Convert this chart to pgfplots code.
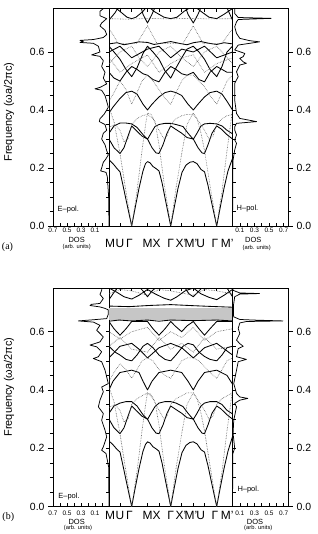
\documentclass[border=0pt]{standalone}
\usepackage{pgfplots}
\pgfplotsset{compat=1.18}
\usepackage{fontspec}
\setmainfont{Liberation Sans}
\newfontfamily\seriff{Liberation Serif}
\pgfplotsset{
  sb/.style={black, line width=0.85bp, line join=round},
  db/.style={black!65, densely dotted, line width=0.6bp},
  dos/.style={black, line width=0.75bp, line join=round},
  base/.style={scale only axis, anchor=south west, ymin=0, ymax=0.75,
    axis line style={line width=0.6bp}, tick style={black, line width=0.5bp},
    major tick length=3bp, minor tick length=3bp,
    /pgf/number format/assume math mode=true},
  ldos/.style={base, width=56bp, xmin=-0.1, xmax=0.7, x dir=reverse},
  rdos/.style={base, width=55.5bp, xmin=0, xmax=0.76},
  band/.style={base, width=123.5bp, xmin=0, xmax=123.5,
    xtick={0,11,22.7,38.5,50,61.7,72.7,84.3,95.5,107.7,123.5}, xticklabels={},
    xtick pos=both, tick align=inside, ytick=\empty},
  dosx/.style={tick align=inside, xtick={0.1,0.3,0.5,0.7}, xtick pos=bottom,
    xticklabel style={font=\fontsize{6.5}{7}\selectfont, inner sep=0pt,
      /pgf/number format/fixed, /pgf/number format/precision=1, /pgf/number format/fixed zerofill},
    ytick={0,0.2,0.4,0.6}, minor y tick num=3, yticklabels={}},
  outer/.style={xtick=\empty, tick align=outside, ytick={0,0.2,0.4,0.6},
    minor y tick num=3, major tick length=5bp, minor tick length=3bp,
    yticklabel style={font=\fontsize{10.5}{12}\selectfont,
      /pgf/number format/fixed, /pgf/number format/precision=1, /pgf/number format/fixed zerofill}},
}
\begin{document}
\begin{tikzpicture}
\path[use as bounding box] (0bp,0bp) rectangle (318bp,534bp);

% ================= PANEL (a) =================
\begin{axis}[ldos, dosx, at={(53bp,308bp)}, height=217.5bp, ytick pos=right,
  minor xtick={0,0.2,0.4,0.6}, xticklabel style={yshift=-1.5bp}]
\addplot[dos] coordinates {(-0.1,0)(-0.095,0.10)(-0.076,0.17)(-0.057,0.185)(0.019,0.19)(0.005,0.20)(-0.019,0.22)(-0.052,0.23)(-0.09,0.245)(-0.067,0.26)(-0.043,0.28)(0.005,0.30)(-0.019,0.32)(-0.067,0.33)(-0.043,0.35)(0.038,0.36)(0.029,0.37)(-0.029,0.385)(-0.067,0.40)(-0.09,0.41)(-0.067,0.43)(-0.043,0.45)(0.005,0.468)(0.1,0.473)(0.029,0.478)(-0.067,0.49)(-0.019,0.51)(-0.043,0.53)(0.005,0.55)(-0.019,0.57)(0.029,0.585)(0.148,0.59)(0.029,0.60)(0.052,0.62)(0.124,0.63)(0.314,0.633)(0.267,0.636)(0.314,0.64)(0.124,0.643)(-0.019,0.65)(-0.067,0.66)(-0.043,0.675)(0.029,0.69)(0.005,0.70)(-0.067,0.715)(0.029,0.725)(0.029,0.74)(-0.019,0.75)};
\end{axis}
\begin{axis}[ldos, outer, at={(53bp,308bp)}, height=217.5bp, ytick pos=left]
\end{axis}

\begin{axis}[band, at={(109bp,308bp)}, height=217.5bp]
% E-pol (solid)
\addplot[sb] coordinates {(0,.228)(4,.215)(8,.198)(11,.187)(14,.14)(18,.075)(22.7,0)(26,.06)(30,.13)(34,.19)(36.5,.215)(38.5,.222)(41,.218)(44,.205)(47,.198)(50,.19)(53,.15)(57,.08)(61.7,0)(65,.06)(69,.13)(73,.185)(77,.21)(81,.22)(84.3,.222)(88,.215)(92,.195)(95.5,.187)(99,.14)(103,.075)(107.7,0)(111,.06)(115,.13)(119,.19)(123.5,.233)};
\addplot[sb] coordinates {(0,.30)(5,.27)(11,.25)(15,.27)(19,.31)(22.7,.345)(27,.33)(33,.31)(38.5,.30)(43,.27)(47,.252)(50,.25)(54,.28)(58,.32)(61.7,.345)(66,.335)(72.7,.32)(78,.305)(84.3,.30)(89,.27)(93,.252)(95.5,.25)(99,.28)(103,.32)(107.7,.345)(112,.335)(118,.315)(123.5,.30)};
\addplot[sb] coordinates {(0,.32)(5,.345)(11,.355)(17,.355)(22.7,.352)(28,.34)(34,.315)(38.5,.299)(42,.32)(46,.343)(50,.35)(56,.354)(61.7,.354)(67,.35)(74,.343)(79,.32)(84.3,.299)(88,.32)(92,.345)(95.5,.352)(101,.354)(107.7,.352)(113,.345)(118,.33)(123.5,.318)};
\addplot[sb] coordinates {(0,.39)(4,.41)(11,.44)(17,.46)(22.7,.465)(28,.455)(34,.42)(38.5,.40)(43,.42)(50,.445)(56,.46)(61.7,.465)(67,.46)(72.7,.45)(79,.42)(84.3,.40)(89,.42)(95.5,.445)(101,.46)(107.7,.465)(113,.455)(118,.43)(123.5,.40)};
\addplot[sb] coordinates {(0,.53)(5,.51)(11,.50)(17,.53)(22.7,.55)(28,.54)(34,.525)(38.5,.52)(44,.505)(50,.497)(56,.53)(61.7,.55)(67,.54)(72.7,.525)(78,.52)(84.3,.53)(90,.505)(95.5,.497)(101,.53)(107.7,.55)(113,.54)(118,.53)(123.5,.53)};
\addplot[sb] coordinates {(0,.62)(5,.60)(11,.575)(17,.54)(22.7,.515)(28,.545)(34,.595)(38.5,.62)(44,.60)(50,.575)(56,.535)(61.7,.51)(67,.545)(72.7,.58)(78,.61)(84.3,.62)(90,.60)(95.5,.575)(101,.54)(107.7,.515)(113,.55)(118,.60)(123.5,.62)};
\addplot[sb] coordinates {(0,.60)(11,.62)(22.7,.58)(38.5,.61)(50,.62)(61.7,.58)(72.7,.61)(84.3,.60)(95.5,.62)(107.7,.58)(123.5,.60)};
\addplot[sb] coordinates {(0,.628)(8,.632)(15,.625)(22.7,.63)(30,.635)(38.5,.633)(45,.626)(52,.63)(61.7,.636)(70,.63)(78,.625)(84.3,.632)(92,.636)(100,.63)(107.7,.626)(115,.632)(123.5,.628)};
\addplot[sb] coordinates {(0,.71)(6,.735)(12,.77)(22.7,.80)(30,.78)(34,.73)(38.5,.70)(43,.73)(48,.77)(61.7,.80)(74,.78)(79,.73)(84.3,.70)(89,.73)(94,.77)(107.7,.80)(117,.76)(123.5,.71)};
\addplot[sb] coordinates {(0,.77)(11,.74)(18,.72)(22.7,.715)(27,.72)(34,.74)(38.5,.76)(45,.74)(55,.72)(61.7,.715)(68,.72)(75,.74)(84.3,.76)(92,.74)(100,.72)(107.7,.715)(115,.73)(123.5,.75)};
% H-pol (dotted)
\addplot[db] coordinates {(0,.41)(5,.36)(11,.25)(16,.14)(22.7,0)(28,.12)(33,.26)(37,.36)(38.5,.39)(42,.385)(46,.36)(50,.28)(55,.15)(61.7,0)(67,.13)(72.7,.25)(78,.35)(84.3,.39)(88,.37)(92,.32)(95.5,.26)(101,.14)(107.7,0)(113,.12)(118,.26)(123.5,.40)};
\addplot[db] coordinates {(0,.34)(6,.35)(11,.33)(15,.29)(19,.30)(22.7,.35)(28,.37)(33,.38)(38.5,.385)(44,.37)(50,.33)(55,.30)(58,.31)(61.7,.35)(67,.37)(72.7,.38)(78,.385)(84.3,.385)(90,.36)(95.5,.33)(100,.30)(104,.31)(107.7,.35)(113,.37)(118,.38)(123.5,.385)};
\addplot[db] coordinates {(0,.43)(5,.46)(11,.50)(17,.47)(22.7,.42)(28,.46)(33,.50)(38.5,.52)(44,.50)(50,.47)(56,.44)(61.7,.42)(67,.46)(72.7,.50)(78,.52)(84.3,.52)(90,.50)(95.5,.48)(101,.45)(107.7,.42)(113,.46)(118,.50)(123.5,.52)};
\addplot[db] coordinates {(0,.56)(11,.60)(22.7,.62)(30,.58)(38.5,.55)(50,.60)(61.7,.62)(72.7,.58)(84.3,.55)(95.5,.60)(107.7,.62)(123.5,.56)};
\addplot[db] coordinates {(0,.58)(11,.53)(22.7,.56)(38.5,.59)(50,.53)(61.7,.56)(72.7,.58)(84.3,.59)(95.5,.53)(107.7,.56)(123.5,.58)};
\addplot[db] coordinates {(0,.68)(4,.66)(9,.63)(28,.63)(38.5,.69)(48,.63)(74,.63)(84.3,.69)(94,.63)(113,.63)(123.5,.68)};
\addplot[db] coordinates {(0,.715)(20,.713)(40,.716)(60,.714)(80,.716)(100,.714)(123.5,.715)};
\end{axis}

\begin{axis}[rdos, dosx, at={(232.5bp,308bp)}, height=217.5bp, ytick pos=left,
  minor xtick={0.2,0.4,0.6}, xticklabel style={yshift=-1.5bp}]
\addplot[dos] coordinates {(0,0)(0.003,0.10)(0.005,0.2)(0.008,0.228)(0.03,0.262)(0.055,0.285)(0.03,0.297)(0.055,0.314)(0.03,0.331)(0.03,0.342)(0.055,0.354)(0.33,0.36)(0.10,0.371)(0.055,0.388)(0.03,0.434)(0.03,0.492)(0.078,0.515)(0.055,0.532)(0.10,0.555)(0.19,0.561)(0.146,0.566)(0.10,0.578)(0.146,0.584)(0.169,0.595)(0.10,0.601)(0.03,0.607)(0.078,0.624)(0.237,0.63)(0.37,0.635)(0.237,0.639)(0.10,0.647)(0.055,0.664)(0.03,0.687)(0.055,0.704)(0.078,0.712)(0.53,0.716)(0.078,0.719)(0.03,0.733)(0.03,0.75)};
\end{axis}
\begin{axis}[rdos, outer, at={(232.5bp,308bp)}, height=217.5bp, ytick pos=right]
\end{axis}

% ================= PANEL (b) =================
\begin{axis}[ldos, dosx, at={(53bp,27.5bp)}, height=218.5bp, ytick pos=right,
  minor xtick={0,0.2,0.4,0.6}, xticklabel style={yshift=-4bp}]
\addplot[dos] coordinates {(-0.1,0)(-0.095,0.136)(-0.057,0.182)(0.005,0.193)(-0.019,0.205)(-0.067,0.239)(-0.043,0.262)(0.005,0.296)(-0.019,0.319)(0.052,0.342)(0.029,0.365)(-0.019,0.394)(0.005,0.41)(-0.09,0.422)(-0.043,0.468)(0.005,0.497)(0.124,0.508)(0.052,0.514)(0.005,0.531)(0.076,0.548)(0.171,0.554)(0.029,0.565)(-0.019,0.582)(0.029,0.594)(0.076,0.605)(0.029,0.622)(0.124,0.633)(0.338,0.637)(0.124,0.641)(-0.067,0.645)(-0.09,0.66)(-0.09,0.675)(-0.043,0.68)(0.029,0.685)(0.171,0.69)(0.148,0.694)(0.029,0.697)(-0.019,0.714)(0.029,0.728)(0.005,0.742)(0.005,0.75)};
\end{axis}
\begin{axis}[ldos, outer, at={(53bp,27.5bp)}, height=218.5bp, ytick pos=left]
\end{axis}

\begin{axis}[band, at={(109bp,27.5bp)}, height=218.5bp]
\addplot[fill=gray!45, draw=none] coordinates {(0,0.641)(123.5,0.641)(123.5,0.682)(0,0.682)} -- cycle;
% E-pol (solid)
\addplot[sb] coordinates {(0,.225)(4,.212)(8,.196)(11,.187)(14,.14)(18,.075)(22.7,0)(26,.06)(30,.13)(34,.19)(36.5,.213)(38.5,.222)(41,.218)(44,.205)(47,.198)(50,.19)(53,.15)(57,.08)(61.7,0)(65,.06)(69,.13)(73,.185)(77,.21)(81,.22)(84.3,.222)(88,.215)(92,.195)(95.5,.187)(99,.14)(103,.075)(107.7,0)(111,.06)(115,.13)(119,.19)(123.5,.24)};
\addplot[sb] coordinates {(0,.30)(5,.27)(11,.25)(15,.27)(19,.31)(22.7,.345)(27,.33)(33,.31)(38.5,.30)(43,.27)(47,.252)(50,.25)(54,.28)(58,.32)(61.7,.345)(66,.335)(72.7,.32)(78,.305)(84.3,.30)(89,.27)(93,.252)(95.5,.25)(99,.28)(103,.32)(107.7,.345)(112,.335)(118,.315)(123.5,.30)};
\addplot[sb] coordinates {(0,.32)(5,.345)(11,.355)(17,.36)(22.7,.36)(28,.345)(34,.315)(38.5,.299)(42,.32)(46,.343)(50,.355)(56,.36)(61.7,.36)(67,.355)(74,.343)(79,.32)(84.3,.299)(88,.32)(92,.345)(95.5,.355)(101,.36)(107.7,.36)(113,.35)(118,.33)(123.5,.318)};
\addplot[sb] coordinates {(0,.40)(4,.43)(11,.46)(22.7,.468)(30,.46)(34,.43)(38.5,.40)(43,.43)(50,.46)(61.7,.468)(72.7,.46)(79,.43)(84.3,.40)(89,.43)(95.5,.46)(107.7,.468)(118,.45)(123.5,.42)};
\addplot[sb] coordinates {(0,.55)(6,.53)(11,.52)(17,.505)(22.7,.50)(28,.52)(34,.55)(38.5,.56)(44,.545)(50,.52)(56,.505)(61.7,.50)(67,.52)(74,.55)(79,.56)(84.3,.555)(90,.53)(95.5,.515)(101,.505)(107.7,.50)(113,.52)(118,.545)(123.5,.55)};
\addplot[sb] coordinates {(0,.51)(11,.55)(22.7,.56)(30,.54)(38.5,.51)(50,.545)(61.7,.56)(72.7,.545)(84.3,.51)(95.5,.545)(107.7,.56)(123.5,.52)};
\addplot[sb] coordinates {(0,.635)(5,.61)(11,.588)(17,.61)(22.7,.635)(33,.635)(38.5,.635)(44,.61)(50,.588)(56,.61)(61.7,.635)(66,.62)(72.7,.60)(78,.62)(84.3,.635)(90,.61)(95.5,.588)(101,.61)(107.7,.635)(118,.635)(123.5,.635)};
\addplot[sb] coordinates {(0,.636)(10,.64)(22.7,.637)(38.5,.64)(50,.636)(61.7,.64)(84.3,.638)(107.7,.64)(123.5,.637)};
\addplot[sb] coordinates {(0,.688)(20,.686)(40,.69)(61.7,.693)(80,.69)(100,.687)(123.5,.684)};
\addplot[sb] coordinates {(0,.75)(8,.735)(15,.72)(22.7,.712)(30,.725)(38.5,.745)(46,.73)(55,.715)(61.7,.708)(68,.72)(76,.74)(84.3,.75)(92,.73)(100,.718)(107.7,.71)(115,.725)(123.5,.745)};
\addplot[sb] coordinates {(0,.71)(6,.74)(11,.76)(22.7,.78)(34,.74)(38.5,.72)(43,.74)(50,.76)(61.7,.78)(74,.76)(80,.73)(84.3,.72)(90,.74)(95.5,.76)(107.7,.78)(118,.75)(123.5,.72)};
% H-pol (dotted)
\addplot[db] coordinates {(0,.41)(5,.36)(11,.25)(16,.14)(22.7,0)(28,.12)(33,.26)(37,.36)(38.5,.39)(42,.385)(46,.36)(50,.28)(55,.15)(61.7,0)(67,.13)(72.7,.25)(78,.35)(84.3,.39)(88,.37)(92,.32)(95.5,.26)(101,.14)(107.7,0)(113,.12)(118,.26)(123.5,.40)};
\addplot[db] coordinates {(0,.34)(6,.35)(11,.33)(15,.29)(19,.30)(22.7,.35)(28,.37)(33,.38)(38.5,.39)(44,.37)(50,.33)(55,.30)(58,.31)(61.7,.35)(67,.37)(72.7,.38)(78,.39)(84.3,.39)(90,.36)(95.5,.33)(100,.30)(104,.31)(107.7,.35)(113,.37)(118,.38)(123.5,.39)};
\addplot[db] coordinates {(0,.43)(5,.46)(11,.49)(17,.47)(22.7,.44)(28,.47)(33,.50)(38.5,.51)(44,.50)(50,.47)(56,.45)(61.7,.44)(67,.47)(72.7,.50)(78,.51)(84.3,.51)(90,.50)(95.5,.48)(101,.46)(107.7,.44)(113,.47)(118,.50)(123.5,.51)};
\addplot[db] coordinates {(0,.60)(11,.575)(22.7,.60)(38.5,.615)(50,.57)(61.7,.60)(72.7,.58)(84.3,.615)(95.5,.57)(107.7,.60)(123.5,.61)};
\addplot[db] coordinates {(0,.55)(11,.58)(22.7,.54)(38.5,.53)(50,.58)(61.7,.54)(72.7,.56)(84.3,.53)(95.5,.58)(107.7,.54)(123.5,.55)};
\addplot[db] coordinates {(0,.73)(11,.745)(22.7,.74)(38.5,.725)(50,.745)(61.7,.74)(84.3,.725)(95.5,.745)(107.7,.74)(123.5,.73)};
\end{axis}

\begin{axis}[rdos, dosx, at={(232.5bp,27.5bp)}, height=218.5bp, ytick pos=left,
  minor xtick={0.2,0.4,0.6}, xticklabel style={yshift=-4bp}]
\addplot[dos] coordinates {(0,0)(0.005,0.182)(0.03,0.20)(0.008,0.251)(0.017,0.296)(0.055,0.342)(0.03,0.354)(0.1,0.365)(0.21,0.371)(0.1,0.376)(0.055,0.388)(0.017,0.422)(0.055,0.468)(0.078,0.497)(0.19,0.505)(0.146,0.508)(0.055,0.514)(0.078,0.542)(0.146,0.55)(0.1,0.559)(0.055,0.571)(0.1,0.594)(0.078,0.611)(0.1,0.63)(0.19,0.635)(0.69,0.637)(0.28,0.64)(0.1,0.642)(0.017,0.651)(0.012,0.66)(0.012,0.69)(0.017,0.697)(0.03,0.72)(0.1,0.729)(0.37,0.731)(0.1,0.733)(0.008,0.742)(0.008,0.75)};
\end{axis}
\begin{axis}[rdos, outer, at={(232.5bp,27.5bp)}, height=218.5bp, ytick pos=right]
\end{axis}

% ================= TEXT =================
\tikzset{kl/.style={font=\fontsize{12}{12}\selectfont, inner sep=0pt},
  dl/.style={font=\fontsize{7.5}{8}\selectfont, inner sep=0pt},
  al/.style={font=\fontsize{5.8}{6}\selectfont, inner sep=0pt}}
\foreach \yy in {290.5,19} {
  \node[kl] at (110bp,\yy bp) {M};
  \node[kl] at (120bp,\yy bp) {U};
  \node[kl] at (129.3bp,\yy bp) {Γ};
  \node[kl] at (147.5bp,\yy bp) {M};
  \node[kl] at (156.7bp,\yy bp) {X};
  \node[kl] at (170.7bp,\yy bp) {Γ};
  \node[kl] at (181bp,\yy bp) {X'};
  \node[kl] at (191bp,\yy bp) {M'};
  \node[kl] at (200.7bp,\yy bp) {U};
  \node[kl] at (215bp,\yy bp) {Γ};
  \node[kl] at (227.3bp,\yy bp) {M'};
}
\node[dl] at (76.7bp,294bp) {DOS};
\node[al] at (76.7bp,286.5bp) {(arb. units)};
\node[dl] at (253.3bp,294.5bp) {DOS};
\node[al] at (256.7bp,286bp) {(arb. units)};
\node[dl] at (76.7bp,12.5bp) {DOS};
\node[al] at (78bp,5.7bp) {(arb. units)};
\node[dl] at (255bp,12.5bp) {DOS};
\node[al] at (258.3bp,5.9bp) {(arb. units)};
\node[dl] at (68.3bp,324bp) {E–pol.};
\node[dl] at (69bp,37.3bp) {E–pol.};
\node[dl] at (247.5bp,325bp) {H–pol.};
\node[dl] at (248.3bp,44.7bp) {H–pol.};
\node[rotate=90, font=\fontsize{11}{12}\selectfont, inner sep=0pt] at (9bp,422bp) {Frequency (ωa/2πc)};
\node[rotate=90, font=\fontsize{11}{12}\selectfont, inner sep=0pt] at (9bp,147bp) {Frequency (ωa/2πc)};
\node[font=\seriff\fontsize{10}{11}\selectfont, inner sep=0pt] at (7.5bp,287.3bp) {(a)};
\node[font=\seriff\fontsize{10}{11}\selectfont, inner sep=0pt] at (8.3bp,17.3bp) {(b)};
\end{tikzpicture}
\end{document}
